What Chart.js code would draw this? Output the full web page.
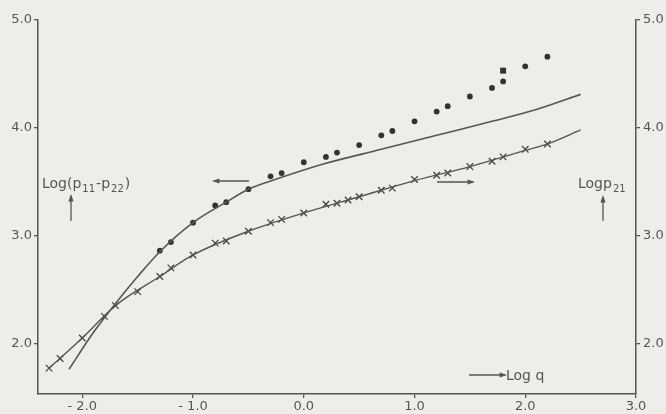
<!DOCTYPE html>
<html>
<head>
<meta charset="utf-8">
<script src="https://cdn.jsdelivr.net/npm/chart.js@4.4.1/dist/chart.umd.min.js"></script>
<style>
  html, body { margin: 0; padding: 0; background: #efede9; }
  #wrap { width: 666px; height: 414px; }
</style>
</head>
<body>
<div id="wrap"><canvas id="chart" width="666" height="414"></canvas></div>
<script>
// axis ticks
const xTicks = [-2, -1, 0, 1, 2, 3];
const xTickLabels = ['- 2.0', '- 1.0', '0.0', '1.0', '2.0', '3.0'];
const yTicks = [2, 3, 4, 5];
const yTickLabels = ['2.0', '3.0', '4.0', '5.0'];

// Log(p11-p22), measured points (dots)
const dotLogQ = [-1.3, -1.2, -1.0, -0.8, -0.7, -0.5, -0.3, -0.2, 0.0, 0.2, 0.3, 0.5, 0.7, 0.8, 1.0, 1.2, 1.3, 1.5, 1.7, 1.8, 2.0, 2.2];
const dotLogN1 = [2.86, 2.94, 3.12, 3.28, 3.31, 3.43, 3.55, 3.58, 3.68, 3.73, 3.77, 3.84, 3.93, 3.97, 4.06, 4.15, 4.20, 4.29, 4.37, 4.43, 4.57, 4.66];
// one square point
const squareLogQ = [1.8];
const squareLogN1 = [4.53];

// theory curve for Log(p11-p22)
const curveN1LogQ = [-2.12, -1.9, -1.7, -1.5, -1.3, -1.0, -0.7, -0.5, -0.2, 0.2, 0.7, 1.2, 1.7, 2.1, 2.5];
const curveN1 = [1.76, 2.10, 2.37, 2.62, 2.85, 3.12, 3.31, 3.43, 3.54, 3.67, 3.80, 3.93, 4.06, 4.17, 4.31];

// Log p21, measured points (crosses)
const crossLogQ = [-2.3, -2.2, -2.0, -1.8, -1.7, -1.5, -1.3, -1.2, -1.0, -0.8, -0.7, -0.5, -0.3, -0.2, 0.0, 0.2, 0.3, 0.4, 0.5, 0.7, 0.8, 1.0, 1.2, 1.3, 1.5, 1.7, 1.8, 2.0, 2.2];
const crossLogP21 = [1.77, 1.86, 2.05, 2.25, 2.35, 2.48, 2.62, 2.70, 2.82, 2.93, 2.95, 3.04, 3.12, 3.15, 3.21, 3.29, 3.30, 3.33, 3.36, 3.42, 3.44, 3.52, 3.56, 3.58, 3.64, 3.69, 3.73, 3.80, 3.85];

// theory curve for Log p21
const curveP21LogQ = [-2.3, -2.0, -1.7, -1.3, -1.0, -0.5, 0.0, 0.5, 1.0, 1.5, 2.0, 2.2, 2.5];
const curveP21 = [1.77, 2.05, 2.35, 2.62, 2.82, 3.04, 3.21, 3.36, 3.51, 3.64, 3.79, 3.85, 3.98];

const ink = '#555';
const dark = '#333';
const font = '"DejaVu Sans", sans-serif';

const pts = (xs, ys) => xs.map((v, i) => ({ x: v, y: ys[i] }));

// draws text with sub-scripts: parts = [text, size, dy]
function richText(ctx, x, y, parts) {
  let cx = x;
  for (const [txt, size, dy] of parts) {
    ctx.font = size + 'px ' + font;
    ctx.fillText(txt, cx, y + dy);
    cx += ctx.measureText(txt).width + 1;
  }
}

function arrow(ctx, x1, y1, x2, y2) {
  ctx.beginPath();
  ctx.moveTo(x1, y1);
  ctx.lineTo(x2, y2);
  ctx.stroke();
  const a = Math.atan2(y2 - y1, x2 - x1);
  ctx.beginPath();
  ctx.moveTo(x2 + Math.cos(a) * 2, y2 + Math.sin(a) * 2);
  ctx.lineTo(x2 - Math.cos(a - 0.45) * 6, y2 - Math.sin(a - 0.45) * 6);
  ctx.lineTo(x2 - Math.cos(a + 0.45) * 6, y2 - Math.sin(a + 0.45) * 6);
  ctx.closePath();
  ctx.fill();
}

const notes = {
  id: 'notes',
  afterDraw(chart) {
    const ctx = chart.ctx;
    ctx.save();
    ctx.fillStyle = ink;
    ctx.strokeStyle = ink;
    ctx.lineWidth = 1.3;
    ctx.textBaseline = 'alphabetic';
    richText(ctx, 42, 188, [['Log(p', 14, 0], ['11', 10, 4], ['-p', 14, 0], ['22', 10, 4], [')', 14, 0]]);
    richText(ctx, 578, 188, [['Logp', 14, 0], ['21', 10, 4]]);
    richText(ctx, 506, 380, [['Log q', 14, 0]]);
    arrow(ctx, 71, 221, 71, 196);
    arrow(ctx, 603, 221, 603, 197);
    arrow(ctx, 249, 181, 214, 181);
    arrow(ctx, 437, 182, 473, 182);
    arrow(ctx, 469, 375, 505, 375);
    ctx.restore();
  }
};

const yScale = (pos, labelPad, width) => ({
  type: 'linear',
  position: pos,
  min: 1.53,
  max: 5.0,
  afterBuildTicks: s => { s.ticks = yTicks.map(v => ({ value: v })); },
  afterFit: s => { s.width = width; },
  grid: { drawOnChartArea: false, drawTicks: true, tickLength: 4, color: ink, lineWidth: 1.3 },
  border: { display: true, color: ink, width: 1.5 },
  ticks: {
    padding: labelPad,
    color: ink,
    font: { family: font, size: 13 },
    callback: (v, i) => yTickLabels[i]
  }
});

new Chart(document.getElementById('chart'), {
  type: 'scatter',
  data: {
    datasets: [
      {
        data: pts(curveN1LogQ, curveN1),
        showLine: true,
        cubicInterpolationMode: 'monotone',
        borderColor: ink,
        borderWidth: 1.6,
        pointRadius: 0,
        yAxisID: 'y'
      },
      {
        data: pts(curveP21LogQ, curveP21),
        showLine: true,
        cubicInterpolationMode: 'monotone',
        borderColor: ink,
        borderWidth: 1.4,
        pointRadius: 0,
        yAxisID: 'y2'
      },
      {
        data: pts(dotLogQ, dotLogN1),
        pointStyle: 'circle',
        pointRadius: 2.9,
        backgroundColor: dark,
        borderColor: dark,
        borderWidth: 0,
        yAxisID: 'y'
      },
      {
        data: pts(squareLogQ, squareLogN1),
        pointStyle: 'rect',
        pointRadius: 4.2,
        backgroundColor: dark,
        borderColor: dark,
        borderWidth: 0,
        yAxisID: 'y'
      },
      {
        data: pts(crossLogQ, crossLogP21),
        pointStyle: 'crossRot',
        pointRadius: 4.6,
        borderColor: '#444',
        borderWidth: 1.3,
        yAxisID: 'y2'
      }
    ]
  },
  options: {
    responsive: false,
    animation: false,
    layout: { padding: { top: 20, left: 0, right: 0, bottom: 0 } },
    plugins: { legend: { display: false }, tooltip: { enabled: false } },
    scales: {
      x: {
        type: 'linear',
        min: -2.4,
        max: 3.0,
        afterBuildTicks: s => { s.ticks = xTicks.map(v => ({ value: v })); },
        afterFit: s => { s.height = 20; },
        grid: { drawOnChartArea: false, drawTicks: true, tickLength: 4, color: ink, lineWidth: 1.3 },
        border: { display: true, color: ink, width: 1.5 },
        ticks: {
          padding: 1,
          color: ink,
          maxRotation: 0,
          font: { family: font, size: 13 },
          callback: (v, i) => xTickLabels[i]
        }
      },
      y: yScale('left', 2, 38),
      y2: yScale('right', 3, 30)
    }
  },
  plugins: [notes]
});
</script>
</body>
</html>
